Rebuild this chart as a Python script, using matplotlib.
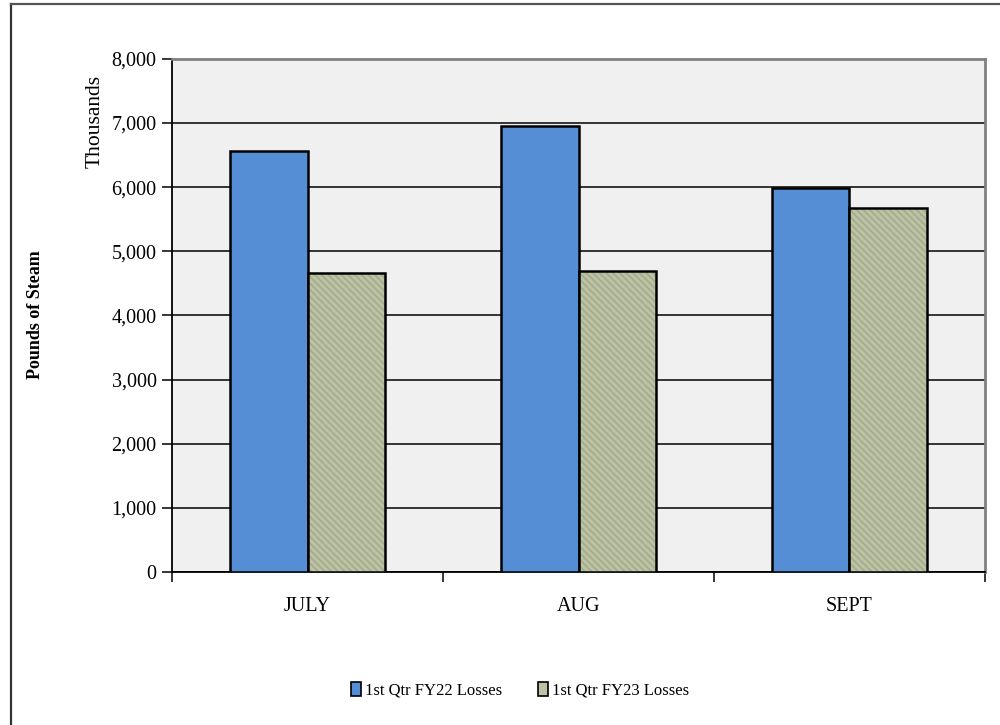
import matplotlib
matplotlib.use("Agg")
import matplotlib.pyplot as plt
from matplotlib.lines import Line2D
from matplotlib.patches import Patch
from matplotlib.ticker import FuncFormatter, FixedLocator
import numpy as np

plt.rcParams['font.family'] = ['Liberation Serif', 'DejaVu Serif']
plt.rcParams['hatch.linewidth'] = 1.2

months = ["JULY", "AUG", "SEPT"]
fy22_losses = [6556, 6947, 5978]
fy23_losses = [4666, 4697, 5666]
series_names = ["1st Qtr FY22 Losses", "1st Qtr FY23 Losses"]
y_ticks = [0, 1000, 2000, 3000, 4000, 5000, 6000, 7000, 8000]

blue = "#558ed5"
olive = "#bcc3a4"
olive_hatch = "#a4ab8d"

fig = plt.figure(figsize=(10, 7.25), dpi=100)
ax = fig.add_axes([0.172, 0.211, 0.813, 0.708])
ax.set_facecolor("#f0f0f0")

x = np.arange(len(months))
w = 0.285
ax.bar(x - w / 2, fy22_losses, w, color=blue, edgecolor="black",
       linewidth=1.8, zorder=3)
# hatched fill (hatch takes the edge colour), then a black outline on top
ax.bar(x + w / 2, fy23_losses, w, color=olive, edgecolor=olive_hatch,
       hatch="\\\\\\\\\\", linewidth=0, zorder=3)
ax.bar(x + w / 2, fy23_losses, w, fill=False, edgecolor="black",
       linewidth=1.8, zorder=4)

ax.set_xlim(-0.5, 2.5)
ax.set_ylim(0, 8000)
ax.set_yticks(y_ticks)
ax.yaxis.set_major_formatter(FuncFormatter(lambda v, p: f"{int(v):,}"))
ax.yaxis.grid(True, color="black", linewidth=1.1, zorder=1)
ax.set_axisbelow(True)

ax.set_xticks(x)
ax.set_xticklabels(months, fontsize=14.5)
ax.xaxis.set_minor_locator(FixedLocator([-0.5, 0.5, 1.5, 2.5]))
ax.tick_params(axis="x", which="major", length=0, pad=18)
ax.tick_params(axis="x", which="minor", length=7, width=1.1, color="black")
ax.tick_params(axis="y", length=7, width=1.1, labelsize=14.5, pad=4)

for side in ("left", "bottom"):
    ax.spines[side].set_color("black")
    ax.spines[side].set_linewidth(1.3)
for side in ("top", "right"):
    ax.spines[side].set_color("#808080")
    ax.spines[side].set_linewidth(2.0)

fig.text(0.095, 0.832, "Thousands", rotation=90, ha="center", va="center",
         fontsize=15.5)
fig.text(0.035, 0.566, "Pounds of Steam", rotation=90, ha="center",
         va="center", fontsize=13, fontweight="bold")

handles = [Patch(facecolor=blue, edgecolor="black", linewidth=1.2),
           Patch(facecolor=olive, edgecolor="black", linewidth=1.2)]
fig.legend(handles, series_names, loc="center", bbox_to_anchor=(0.52, 0.048),
           ncol=2, frameon=False, fontsize=12, handlelength=0.6,
           handleheight=0.9, handletextpad=0.2, columnspacing=2.2)

# outer chart frame
fig.add_artist(Line2D([0.0105, 0.0105], [0.0, 0.995], transform=fig.transFigure,
                      color="#333333", linewidth=1.6))
fig.add_artist(Line2D([0.0105, 1.0], [0.995, 0.995], transform=fig.transFigure,
                      color="#555555", linewidth=1.6))

fig.savefig("out.png", dpi=100, facecolor="white")
